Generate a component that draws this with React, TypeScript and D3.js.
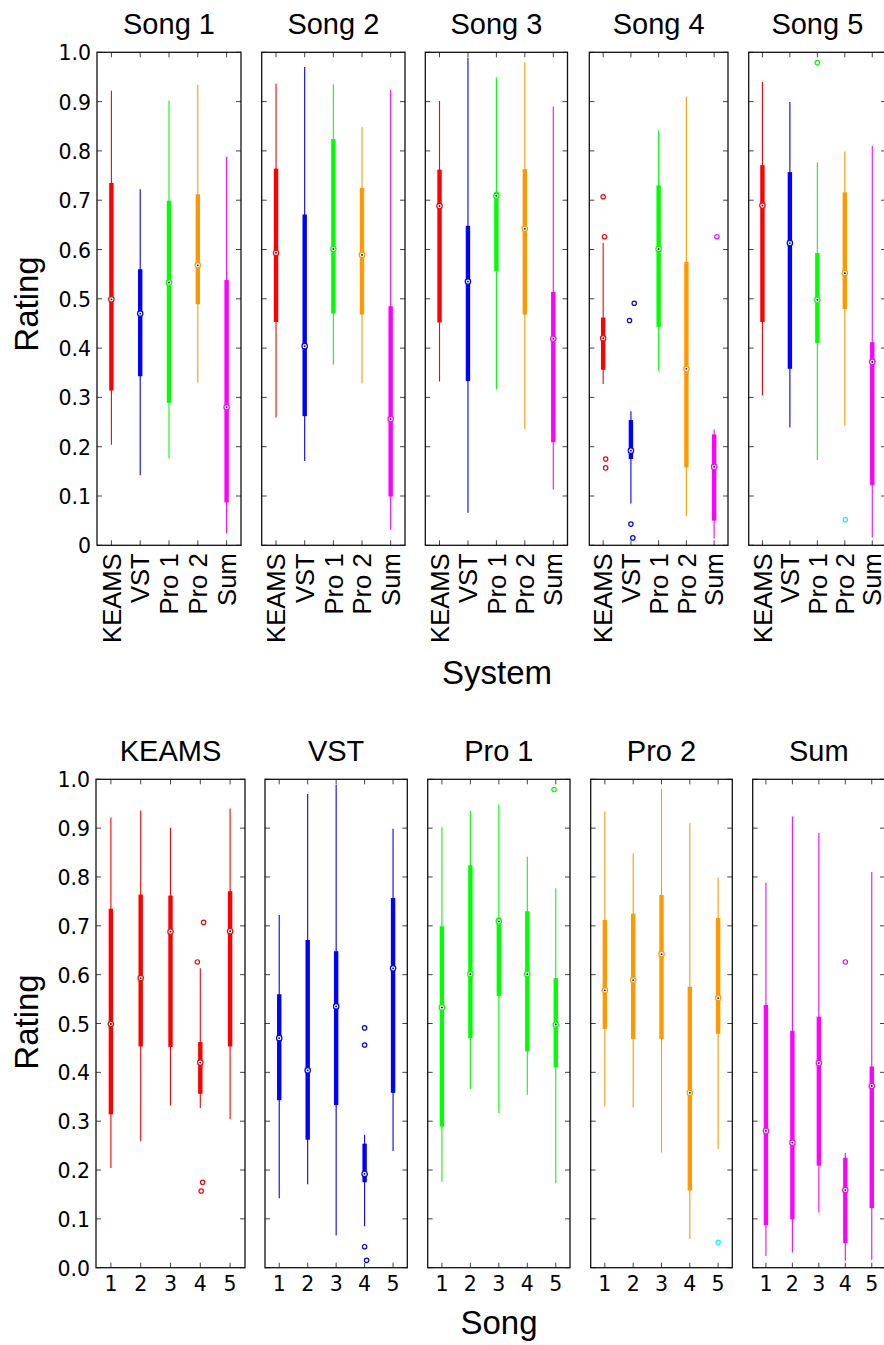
import React from "react";
import * as d3 from "d3";

// ---------- data ----------
const SYSTEMS = ["KEAMS", "VST", "Pro 1", "Pro 2", "Sum"];
const SONGS = [1, 2, 3, 4, 5];
const SONG_TITLES = ["Song 1", "Song 2", "Song 3", "Song 4", "Song 5"];
const COLORS = ["#ff0000", "#0000ff", "#00ff00", "#ff9900", "#ff00ff"];
const Y_TICKS = [0, 0.1, 0.2, 0.3, 0.4, 0.5, 0.6, 0.7, 0.8, 0.9, 1.0];

// per system, values over songs 1..5
const KEAMS_MIN = [0.204, 0.259, 0.332, 0.327, 0.304];
const KEAMS_Q1 = [0.314, 0.453, 0.452, 0.356, 0.453];
const KEAMS_MED = [0.499, 0.593, 0.688, 0.42, 0.689];
const KEAMS_Q3 = [0.735, 0.764, 0.762, 0.462, 0.771];
const KEAMS_MAX = [0.922, 0.936, 0.901, 0.613, 0.94];

const VST_MIN = [0.142, 0.171, 0.066, 0.085, 0.239];
const VST_Q1 = [0.343, 0.262, 0.333, 0.175, 0.358];
const VST_MED = [0.47, 0.404, 0.535, 0.192, 0.613];
const VST_Q3 = [0.56, 0.671, 0.648, 0.254, 0.757];
const VST_MAX = [0.722, 0.97, 0.989, 0.272, 0.899];

const PRO1_MIN = [0.176, 0.366, 0.316, 0.354, 0.173];
const PRO1_Q1 = [0.289, 0.47, 0.556, 0.443, 0.41];
const PRO1_MED = [0.533, 0.601, 0.709, 0.601, 0.498];
const PRO1_Q3 = [0.699, 0.824, 0.717, 0.73, 0.593];
const PRO1_MAX = [0.902, 0.935, 0.949, 0.842, 0.777];

const PRO2_MIN = [0.33, 0.328, 0.236, 0.059, 0.243];
const PRO2_Q1 = [0.489, 0.468, 0.468, 0.158, 0.479];
const PRO2_MED = [0.568, 0.589, 0.642, 0.358, 0.552];
const PRO2_Q3 = [0.712, 0.725, 0.763, 0.575, 0.716];
const PRO2_MAX = [0.934, 0.848, 0.98, 0.91, 0.799];

const SUM_MIN = [0.024, 0.031, 0.113, 0.014, 0.016];
const SUM_Q1 = [0.087, 0.099, 0.209, 0.05, 0.122];
const SUM_MED = [0.28, 0.256, 0.419, 0.159, 0.372];
const SUM_Q3 = [0.538, 0.485, 0.514, 0.225, 0.412];
const SUM_MAX = [0.788, 0.924, 0.89, 0.235, 0.81];

// outliers: system index, song, value, colour
const OUT_SYSTEM = [0, 0, 0, 0, 1, 1, 1, 1, 2, 3, 4];
const OUT_SONG = [4, 4, 4, 4, 4, 4, 4, 4, 5, 5, 4];
const OUT_VALUE = [0.707, 0.626, 0.175, 0.157, 0.491, 0.456, 0.043, 0.015, 0.979, 0.052, 0.626];
const OUT_COLOR = ["#ff0000", "#ff0000", "#ff0000", "#ff0000", "#0000ff", "#0000ff", "#0000ff", "#0000ff", "#00ff00", "#00ffff", "#ff00ff"];
// small horizontal jitter (category units) in each row
const OUT_JITTER_TOP = [0, 0.05, 0.09, 0.09, 0.12, -0.05, 0, 0.07, 0, 0.02, 0.1];
const OUT_JITTER_BOTTOM = [0.11, -0.1, 0.08, 0.03, 0, 0, 0, 0.07, -0.06, 0, 0];

const STATS = [
  { min: KEAMS_MIN, q1: KEAMS_Q1, med: KEAMS_MED, q3: KEAMS_Q3, max: KEAMS_MAX },
  { min: VST_MIN, q1: VST_Q1, med: VST_MED, q3: VST_Q3, max: VST_MAX },
  { min: PRO1_MIN, q1: PRO1_Q1, med: PRO1_MED, q3: PRO1_Q3, max: PRO1_MAX },
  { min: PRO2_MIN, q1: PRO2_Q1, med: PRO2_MED, q3: PRO2_Q3, max: PRO2_MAX },
  { min: SUM_MIN, q1: SUM_Q1, med: SUM_MED, q3: SUM_Q3, max: SUM_MAX },
];

// ---------- layout ----------
const W = 884;
const H = 1345;
const TOP_LEFTS = [97, 261.7, 425.3, 589.3, 748.7];
const TOP_RIGHTS = [241, 405, 567.5, 728, 886];
const TOP_Y0 = 545.3;
const TOP_Y1 = 52.3;
const BOT_LEFTS = [96, 265, 427.7, 590.7, 752.7];
const BOT_RIGHTS = [245, 407.3, 570, 732.3, 885];
const BOT_Y0 = 1267.7;
const BOT_Y1 = 779.3;

const SANS = "'Liberation Sans', Arial, Helvetica, sans-serif";
const DEJAVU = "'DejaVu Sans', sans-serif";

type Box = { x: number; color: string; min: number; q1: number; med: number; q3: number; max: number };
type Out = { x: number; v: number; color: string };

function Panel(props: {
  left: number;
  right: number;
  y0: number;
  y1: number;
  title: string;
  boxes: Box[];
  outs: Out[];
  showY: boolean;
  yFmt: (v: number) => string;
  xLabels: string[];
  rotated: boolean;
}) {
  const { left, right, y0, y1, title, boxes, outs, showY, yFmt, xLabels, rotated } = props;
  const x = d3.scaleLinear().domain([0.5, 5.5]).range([left, right]);
  const y = d3.scaleLinear().domain([0, 1]).range([y0, y1]);
  const tl = 5;
  const cats = [1, 2, 3, 4, 5];
  return (
    <g>
      <text x={(left + right) / 2} y={y1 - 18} textAnchor="middle" fontFamily={SANS} fontSize={29} fill="#000">
        {title}
      </text>
      {/* boxes */}
      {boxes.map((b, i) => (
        <g key={"b" + i}>
          <line x1={x(b.x)} x2={x(b.x)} y1={y(b.min)} y2={y(b.max)} stroke={b.color} strokeWidth={1.1} />
          <rect x={x(b.x) - 2.2} width={4.4} y={y(b.q3)} height={y(b.q1) - y(b.q3)} fill={b.color} />
          <circle cx={x(b.x)} cy={y(b.med)} r={2.7} fill="#fff" stroke={b.color} strokeWidth={1.2} />
          <circle cx={x(b.x)} cy={y(b.med)} r={0.9} fill="#000" />
        </g>
      ))}
      {outs.map((o, i) => (
        <circle key={"o" + i} cx={x(o.x)} cy={y(o.v)} r={2.2} fill="#fff" stroke={o.color} strokeWidth={1.2} />
      ))}
      {/* ticks */}
      {Y_TICKS.map((t) => (
        <g key={"yt" + t}>
          <line x1={left} x2={left + tl} y1={y(t)} y2={y(t)} stroke="#444" strokeWidth={1} />
          <line x1={right} x2={right - tl} y1={y(t)} y2={y(t)} stroke="#444" strokeWidth={1} />
          {showY && (
            <text x={left - 6} y={y(t) + 8} textAnchor="end" fontFamily={DEJAVU} fontSize={20.5} fill="#000">
              {yFmt(t)}
            </text>
          )}
        </g>
      ))}
      {cats.map((c, i) => (
        <g key={"xt" + c}>
          <line x1={x(c)} x2={x(c)} y1={y1} y2={y1 + tl} stroke="#444" strokeWidth={1} />
          <line x1={x(c)} x2={x(c)} y1={y0} y2={y0 - tl} stroke="#444" strokeWidth={1} />
          {rotated ? (
            <text
              transform={`translate(${x(c)},${y0 + 8}) rotate(-90)`}
              y={9.2}
              textAnchor="end"
              fontFamily={SANS}
              fontSize={25.6}
              fill="#000"
            >
              {xLabels[i]}
            </text>
          ) : (
            <text x={x(c)} y={y0 + 23} textAnchor="middle" fontFamily={DEJAVU} fontSize={20.5} fill="#000">
              {xLabels[i]}
            </text>
          )}
        </g>
      ))}
      <rect x={left} y={y1} width={right - left} height={y0 - y1} fill="none" stroke="#111" strokeWidth={1.3} />
    </g>
  );
}

export default function App() {
  const topFmt = (v: number) => (v === 0 ? "0" : d3.format(".1f")(v));
  const botFmt = (v: number) => d3.format(".1f")(v);

  // top row: one panel per song, boxes per system
  const topPanels = SONGS.map((song, si) => {
    const boxes: Box[] = SYSTEMS.map((_, k) => ({
      x: k + 1,
      color: COLORS[k],
      min: STATS[k].min[si],
      q1: STATS[k].q1[si],
      med: STATS[k].med[si],
      q3: STATS[k].q3[si],
      max: STATS[k].max[si],
    }));
    const outs: Out[] = [];
    OUT_VALUE.forEach((v, i) => {
      if (OUT_SONG[i] === song) outs.push({ x: OUT_SYSTEM[i] + 1 + OUT_JITTER_TOP[i], v, color: OUT_COLOR[i] });
    });
    return { title: SONG_TITLES[si], boxes, outs };
  });

  // bottom row: one panel per system, boxes per song
  const botPanels = SYSTEMS.map((sys, k) => {
    const boxes: Box[] = SONGS.map((song, si) => ({
      x: song,
      color: COLORS[k],
      min: STATS[k].min[si],
      q1: STATS[k].q1[si],
      med: STATS[k].med[si],
      q3: STATS[k].q3[si],
      max: STATS[k].max[si],
    }));
    const outs: Out[] = [];
    OUT_VALUE.forEach((v, i) => {
      if (OUT_SYSTEM[i] === k) outs.push({ x: OUT_SONG[i] + OUT_JITTER_BOTTOM[i], v, color: OUT_COLOR[i] });
    });
    return { title: sys, boxes, outs };
  });

  return (
    <svg
      width={W}
      height={H}
      viewBox={`0 0 ${W} ${H}`}
      style={{ position: "absolute", left: 0, top: 0, background: "#fff" }}
    >
      <rect x={0} y={0} width={W} height={H} fill="#fff" />
      {topPanels.map((p, i) => (
        <Panel
          key={"t" + i}
          left={TOP_LEFTS[i]}
          right={TOP_RIGHTS[i]}
          y0={TOP_Y0}
          y1={TOP_Y1}
          title={p.title}
          boxes={p.boxes}
          outs={p.outs}
          showY={i === 0}
          yFmt={topFmt}
          xLabels={SYSTEMS}
          rotated={true}
        />
      ))}
      {botPanels.map((p, i) => (
        <Panel
          key={"b" + i}
          left={BOT_LEFTS[i]}
          right={BOT_RIGHTS[i]}
          y0={BOT_Y0}
          y1={BOT_Y1}
          title={p.title}
          boxes={p.boxes}
          outs={p.outs}
          showY={i === 0}
          yFmt={botFmt}
          xLabels={SONGS.map(String)}
          rotated={false}
        />
      ))}
      <text transform="translate(38,304) rotate(-90)" textAnchor="middle" fontFamily={SANS} fontSize={33} fill="#000">
        Rating
      </text>
      <text x={497} y={684} textAnchor="middle" fontFamily={SANS} fontSize={33} fill="#000">
        System
      </text>
      <text transform="translate(38,1022) rotate(-90)" textAnchor="middle" fontFamily={SANS} fontSize={33} fill="#000">
        Rating
      </text>
      <text x={499} y={1334} textAnchor="middle" fontFamily={SANS} fontSize={33} fill="#000">
        Song
      </text>
    </svg>
  );
}
